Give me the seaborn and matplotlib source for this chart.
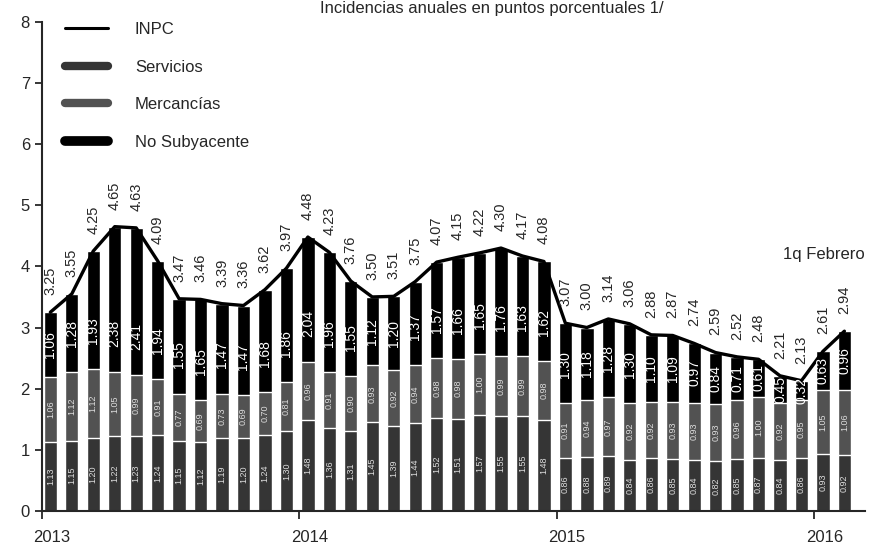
import numpy as np
import pandas as pd
import matplotlib.pyplot as plt
import matplotlib.transforms as mtransforms
from matplotlib.lines import Line2D
import seaborn as sns

# INPC annual inflation and contributions (percentage points), Jan 2013 - 1q Feb 2016
inpc = [3.25, 3.55, 4.25, 4.65, 4.63, 4.09, 3.47, 3.46, 3.39, 3.36, 3.62, 3.97,
        4.48, 4.23, 3.76, 3.50, 3.51, 3.75, 4.07, 4.15, 4.22, 4.30, 4.17, 4.08,
        3.07, 3.00, 3.14, 3.06, 2.88, 2.87, 2.74, 2.59, 2.52, 2.48, 2.21, 2.13,
        2.61, 2.94]
no_sub = [1.06, 1.28, 1.93, 2.38, 2.41, 1.94, 1.55, 1.65, 1.47, 1.47, 1.68, 1.86,
          2.04, 1.96, 1.55, 1.12, 1.20, 1.37, 1.57, 1.66, 1.65, 1.76, 1.63, 1.62,
          1.30, 1.18, 1.28, 1.30, 1.10, 1.09, 0.97, 0.84, 0.71, 0.61, 0.45, 0.32,
          0.63, 0.96]
servicios = [1.13, 1.15, 1.20, 1.22, 1.23, 1.24, 1.15, 1.12, 1.19, 1.20, 1.24, 1.30,
             1.48, 1.36, 1.31, 1.45, 1.39, 1.44, 1.52, 1.51, 1.57, 1.55, 1.55, 1.48,
             0.86, 0.88, 0.89, 0.84, 0.86, 0.85, 0.84, 0.82, 0.85, 0.87, 0.84, 0.86,
             0.93, 0.92]
mercancias = [1.06, 1.12, 1.12, 1.05, 0.99, 0.91, 0.77, 0.69, 0.73, 0.69, 0.70, 0.81,
              0.96, 0.91, 0.90, 0.93, 0.92, 0.94, 0.98, 0.98, 1.00, 0.99, 0.99, 0.98,
              0.91, 0.94, 0.97, 0.92, 0.92, 0.93, 0.93, 0.93, 0.96, 1.00, 0.92, 0.95,
              1.05, 1.06]
years = ["2013", "2014", "2015", "2016"]

df = pd.DataFrame({"inpc": inpc, "no_sub": no_sub,
                   "servicios": servicios, "mercancias": mercancias})
df["pos"] = np.arange(len(df))
df["core"] = df["servicios"] + df["mercancias"]
df["total"] = df["core"] + df["no_sub"]

sns.set_style("ticks")
plt.rcParams["font.family"] = ["Liberation Sans", "DejaVu Sans"]

fig = plt.figure(figsize=(8.7, 5.47), dpi=100)
ax = fig.add_axes([0.048, 0.066, 0.946, 0.894])

c_serv = "#353535"
c_merc = "#525252"

# stacked bars: draw cumulative totals from the top layer down
sns.barplot(x="pos", y="total", data=df, color="black", width=0.62,
            saturation=1, ax=ax)
sns.barplot(x="pos", y="core", data=df, color=c_merc, width=0.62,
            saturation=1, ax=ax)
sns.barplot(x="pos", y="servicios", data=df, color=c_serv, width=0.62,
            saturation=1, ax=ax)
sns.lineplot(x="pos", y="inpc", data=df, color="black", linewidth=2.4, ax=ax)

for _, r in df.iterrows():
    x = r["pos"]
    ax.text(x, r["inpc"] + 0.28, f"{r['inpc']:.2f}", rotation=90,
            ha="center", va="bottom", fontsize=10.5)
    seg = r["no_sub"]
    yc = r["core"] + min(0.63, seg * 0.5)
    ax.text(x, yc, f"{seg:.2f}", rotation=90, ha="center", va="center",
            fontsize=10, color="white")
    ax.text(x, r["servicios"] / 2, f"{r['servicios']:.2f}", rotation=90,
            ha="center", va="center", fontsize=6.5, color="#dddddd")
    ax.text(x, r["servicios"] + r["mercancias"] / 2, f"{r['mercancias']:.2f}",
            rotation=90, ha="center", va="center", fontsize=6.5, color="#dddddd")

ax.set_ylim(0, 8)
ax.set_xlim(-0.4, 37.95)
ax.set_yticks(range(0, 9))
ax.set_xticks([-0.4 + 12 * k for k in range(4)])
ax.set_xticklabels(years)
ax.set_xlabel("")
ax.set_ylabel("")
ax.tick_params(axis="y", labelsize=12, length=5, width=1.3, direction="out")
ax.tick_params(axis="x", labelsize=12, length=6, width=1.3, direction="out", pad=8)
offset = mtransforms.ScaledTranslation(0.1, 0, fig.dpi_scale_trans)
for lab in ax.get_xticklabels():
    lab.set_transform(lab.get_transform() + offset)
sns.despine(ax=ax)
for s in ["left", "bottom"]:
    ax.spines[s].set_linewidth(1.5)

handles = [
    Line2D([0], [0], color="black", lw=2.2),
    Line2D([0], [0], color=c_serv, lw=6),
    Line2D([0], [0], color=c_merc, lw=6),
    Line2D([0], [0], color="black", lw=7),
]
ax.legend(handles, ["INPC", "Servicios", "Mercancías", "No Subyacente"],
          loc="upper left", bbox_to_anchor=(0.01, 1.03), frameon=False,
          fontsize=12, handlelength=2.6, handletextpad=1.6, labelspacing=1.35)

ax.text(37.95, 4.2, "1q Febrero", ha="right", va="center", fontsize=12)
fig.text(0.565, 0.999, "Incidencias anuales en puntos porcentuales 1/",
         ha="center", va="top", fontsize=12)

fig.savefig("out.png", dpi=100)
